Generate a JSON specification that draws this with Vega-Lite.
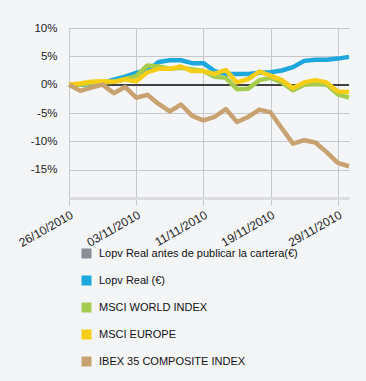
{
  "$schema": "https://vega.github.io/schema/vega-lite/v6.json",
  "width": 280,
  "height": 170,
  "autosize": "none",
  "padding": {"left": 69, "top": 28, "right": 17, "bottom": 183},
  "background": "#f4f5f7",
  "config": {
    "view": {"stroke": null},
    "font": "Liberation Sans",
    "axis": {"labelFont": "Liberation Sans", "labelColor": "#222222", "labelOverlap": false},
    "axisY": {"labelOverlap": false},
    "legend": {"labelFont": "Liberation Sans"}
  },
  "datasets": {
    "series": [
      {"d":"26/10/2010","s":"Lopv  Real (€)","v":0},{"d":"27/10/2010","s":"Lopv  Real (€)","v":0},{"d":"28/10/2010","s":"Lopv  Real (€)","v":0.1},{"d":"29/10/2010","s":"Lopv  Real (€)","v":0.3},{"d":"01/11/2010","s":"Lopv  Real (€)","v":0.9},{"d":"02/11/2010","s":"Lopv  Real (€)","v":1.4},{"d":"03/11/2010","s":"Lopv  Real (€)","v":2.1},{"d":"04/11/2010","s":"Lopv  Real (€)","v":2.5},{"d":"05/11/2010","s":"Lopv  Real (€)","v":4.0},{"d":"08/11/2010","s":"Lopv  Real (€)","v":4.3},{"d":"09/11/2010","s":"Lopv  Real (€)","v":4.3},{"d":"10/11/2010","s":"Lopv  Real (€)","v":3.8},{"d":"11/11/2010","s":"Lopv  Real (€)","v":3.8},{"d":"12/11/2010","s":"Lopv  Real (€)","v":2.4},{"d":"15/11/2010","s":"Lopv  Real (€)","v":1.9},{"d":"16/11/2010","s":"Lopv  Real (€)","v":1.9},{"d":"17/11/2010","s":"Lopv  Real (€)","v":1.9},{"d":"18/11/2010","s":"Lopv  Real (€)","v":2.1},{"d":"19/11/2010","s":"Lopv  Real (€)","v":2.2},{"d":"22/11/2010","s":"Lopv  Real (€)","v":2.5},{"d":"23/11/2010","s":"Lopv  Real (€)","v":3.1},{"d":"24/11/2010","s":"Lopv  Real (€)","v":4.2},{"d":"25/11/2010","s":"Lopv  Real (€)","v":4.4},{"d":"26/11/2010","s":"Lopv  Real (€)","v":4.4},{"d":"29/11/2010","s":"Lopv  Real (€)","v":4.6},{"d":"30/11/2010","s":"Lopv  Real (€)","v":4.9},
      {"d":"26/10/2010","s":"MSCI WORLD INDEX","v":0},{"d":"27/10/2010","s":"MSCI WORLD INDEX","v":0},{"d":"28/10/2010","s":"MSCI WORLD INDEX","v":0.3},{"d":"29/10/2010","s":"MSCI WORLD INDEX","v":0.4},{"d":"01/11/2010","s":"MSCI WORLD INDEX","v":0.5},{"d":"02/11/2010","s":"MSCI WORLD INDEX","v":1.0},{"d":"03/11/2010","s":"MSCI WORLD INDEX","v":1.5},{"d":"04/11/2010","s":"MSCI WORLD INDEX","v":3.4},{"d":"05/11/2010","s":"MSCI WORLD INDEX","v":3.2},{"d":"08/11/2010","s":"MSCI WORLD INDEX","v":2.8},{"d":"09/11/2010","s":"MSCI WORLD INDEX","v":3.0},{"d":"10/11/2010","s":"MSCI WORLD INDEX","v":2.7},{"d":"11/11/2010","s":"MSCI WORLD INDEX","v":2.4},{"d":"12/11/2010","s":"MSCI WORLD INDEX","v":1.4},{"d":"15/11/2010","s":"MSCI WORLD INDEX","v":1.2},{"d":"16/11/2010","s":"MSCI WORLD INDEX","v":-0.8},{"d":"17/11/2010","s":"MSCI WORLD INDEX","v":-0.7},{"d":"18/11/2010","s":"MSCI WORLD INDEX","v":0.8},{"d":"19/11/2010","s":"MSCI WORLD INDEX","v":1.2},{"d":"22/11/2010","s":"MSCI WORLD INDEX","v":0.4},{"d":"23/11/2010","s":"MSCI WORLD INDEX","v":-1.0},{"d":"24/11/2010","s":"MSCI WORLD INDEX","v":0},{"d":"25/11/2010","s":"MSCI WORLD INDEX","v":0.1},{"d":"26/11/2010","s":"MSCI WORLD INDEX","v":0},{"d":"29/11/2010","s":"MSCI WORLD INDEX","v":-1.7},{"d":"30/11/2010","s":"MSCI WORLD INDEX","v":-2.3},
      {"d":"26/10/2010","s":"MSCI EUROPE","v":0},{"d":"27/10/2010","s":"MSCI EUROPE","v":0.2},{"d":"28/10/2010","s":"MSCI EUROPE","v":0.5},{"d":"29/10/2010","s":"MSCI EUROPE","v":0.6},{"d":"01/11/2010","s":"MSCI EUROPE","v":0.5},{"d":"02/11/2010","s":"MSCI EUROPE","v":0.9},{"d":"03/11/2010","s":"MSCI EUROPE","v":0.6},{"d":"04/11/2010","s":"MSCI EUROPE","v":2.2},{"d":"05/11/2010","s":"MSCI EUROPE","v":2.8},{"d":"08/11/2010","s":"MSCI EUROPE","v":2.8},{"d":"09/11/2010","s":"MSCI EUROPE","v":3.2},{"d":"10/11/2010","s":"MSCI EUROPE","v":2.4},{"d":"11/11/2010","s":"MSCI EUROPE","v":2.4},{"d":"12/11/2010","s":"MSCI EUROPE","v":1.9},{"d":"15/11/2010","s":"MSCI EUROPE","v":2.6},{"d":"16/11/2010","s":"MSCI EUROPE","v":0.4},{"d":"17/11/2010","s":"MSCI EUROPE","v":1.0},{"d":"18/11/2010","s":"MSCI EUROPE","v":2.3},{"d":"19/11/2010","s":"MSCI EUROPE","v":1.6},{"d":"22/11/2010","s":"MSCI EUROPE","v":0.8},{"d":"23/11/2010","s":"MSCI EUROPE","v":-0.6},{"d":"24/11/2010","s":"MSCI EUROPE","v":0.4},{"d":"25/11/2010","s":"MSCI EUROPE","v":0.8},{"d":"26/11/2010","s":"MSCI EUROPE","v":0.4},{"d":"29/11/2010","s":"MSCI EUROPE","v":-1.2},{"d":"30/11/2010","s":"MSCI EUROPE","v":-1.3},
      {"d":"26/10/2010","s":"IBEX 35 COMPOSITE INDEX","v":0},{"d":"27/10/2010","s":"IBEX 35 COMPOSITE INDEX","v":-1.1},{"d":"28/10/2010","s":"IBEX 35 COMPOSITE INDEX","v":-0.5},{"d":"29/10/2010","s":"IBEX 35 COMPOSITE INDEX","v":0},{"d":"01/11/2010","s":"IBEX 35 COMPOSITE INDEX","v":-1.5},{"d":"02/11/2010","s":"IBEX 35 COMPOSITE INDEX","v":-0.4},{"d":"03/11/2010","s":"IBEX 35 COMPOSITE INDEX","v":-2.3},{"d":"04/11/2010","s":"IBEX 35 COMPOSITE INDEX","v":-1.8},{"d":"05/11/2010","s":"IBEX 35 COMPOSITE INDEX","v":-3.4},{"d":"08/11/2010","s":"IBEX 35 COMPOSITE INDEX","v":-4.7},{"d":"09/11/2010","s":"IBEX 35 COMPOSITE INDEX","v":-3.5},{"d":"10/11/2010","s":"IBEX 35 COMPOSITE INDEX","v":-5.5},{"d":"11/11/2010","s":"IBEX 35 COMPOSITE INDEX","v":-6.3},{"d":"12/11/2010","s":"IBEX 35 COMPOSITE INDEX","v":-5.7},{"d":"15/11/2010","s":"IBEX 35 COMPOSITE INDEX","v":-4.3},{"d":"16/11/2010","s":"IBEX 35 COMPOSITE INDEX","v":-6.6},{"d":"17/11/2010","s":"IBEX 35 COMPOSITE INDEX","v":-5.7},{"d":"18/11/2010","s":"IBEX 35 COMPOSITE INDEX","v":-4.4},{"d":"19/11/2010","s":"IBEX 35 COMPOSITE INDEX","v":-4.9},{"d":"22/11/2010","s":"IBEX 35 COMPOSITE INDEX","v":-7.7},{"d":"23/11/2010","s":"IBEX 35 COMPOSITE INDEX","v":-10.4},{"d":"24/11/2010","s":"IBEX 35 COMPOSITE INDEX","v":-9.8},{"d":"25/11/2010","s":"IBEX 35 COMPOSITE INDEX","v":-10.2},{"d":"26/11/2010","s":"IBEX 35 COMPOSITE INDEX","v":-11.9},{"d":"29/11/2010","s":"IBEX 35 COMPOSITE INDEX","v":-13.8},{"d":"30/11/2010","s":"IBEX 35 COMPOSITE INDEX","v":-14.4}
    ]
  },
  "data": {"name": "series"},
  "encoding": {
    "y": {
      "field": "v", "type": "quantitative",
      "scale": {"domain": [-20, 10], "nice": false},
      "axis": {
        "title": null,
        "values": [-15, -10, -5, 0, 5, 10],
        "labelExpr": "datum.value + '%'",
        "labelOverlap": false,
        "labelFontSize": 11.5, "labelPadding": 12,
        "grid": true, "gridColor": "#c8c8cc", "gridWidth": 1,
        "domain": false, "ticks": false
      }
    }
  },
  "layer": [
    {
      "mark": {"type": "rule", "color": "#444444", "strokeWidth": 1},
      "encoding": {"y": {"datum": 0, "type": "quantitative"}}
    },
    {
      "mark": {"type": "line", "strokeWidth": 4.5, "strokeJoin": "round", "strokeCap": "butt"},
      "encoding": {
        "x": {
          "field": "d", "type": "ordinal", "sort": null,
          "scale": {"type": "point", "padding": 0},
          "axis": {
            "title": null,
            "values": ["26/10/2010","03/11/2010","11/11/2010","19/11/2010","29/11/2010"],
            "labelAngle": -30, "labelFontSize": 12, "labelPadding": 4,
            "grid": true, "gridColor": "#c8c8cc", "gridWidth": 1,
            "domain": true, "domainColor": "#dcdcdf", "domainWidth": 3,
            "ticks": true, "tickColor": "#c8c8cc", "tickSize": 7
          }
        },
        "color": {
          "field": "s", "type": "nominal",
          "scale": {
            "domain": ["Lopv  Real antes de publicar la cartera(€)", "Lopv  Real (€)", "MSCI WORLD INDEX", "MSCI EUROPE", "IBEX 35 COMPOSITE INDEX"],
            "range": ["#8c8c96", "#1ca8dd", "#a5cc4e", "#f6ce17", "#c8a270"]
          },
          "legend": {
            "title": null,
            "orient": "none", "legendX": 12, "legendY": 220,
            "symbolType": "square", "symbolSize": 100, "symbolStrokeWidth": 0, "symbolOpacity": 1,
            "labelFontSize": 11, "labelColor": "#111111", "labelOffset": 7,
            "rowPadding": 15, "labelLimit": 300,
            "encode": {"symbols": {"update": {"fill": {"scale": "color", "field": "value"}, "fillOpacity": {"value": 1}, "cornerRadius": {"value": 2}}}}
          }
        }
      }
    }
  ]
}
